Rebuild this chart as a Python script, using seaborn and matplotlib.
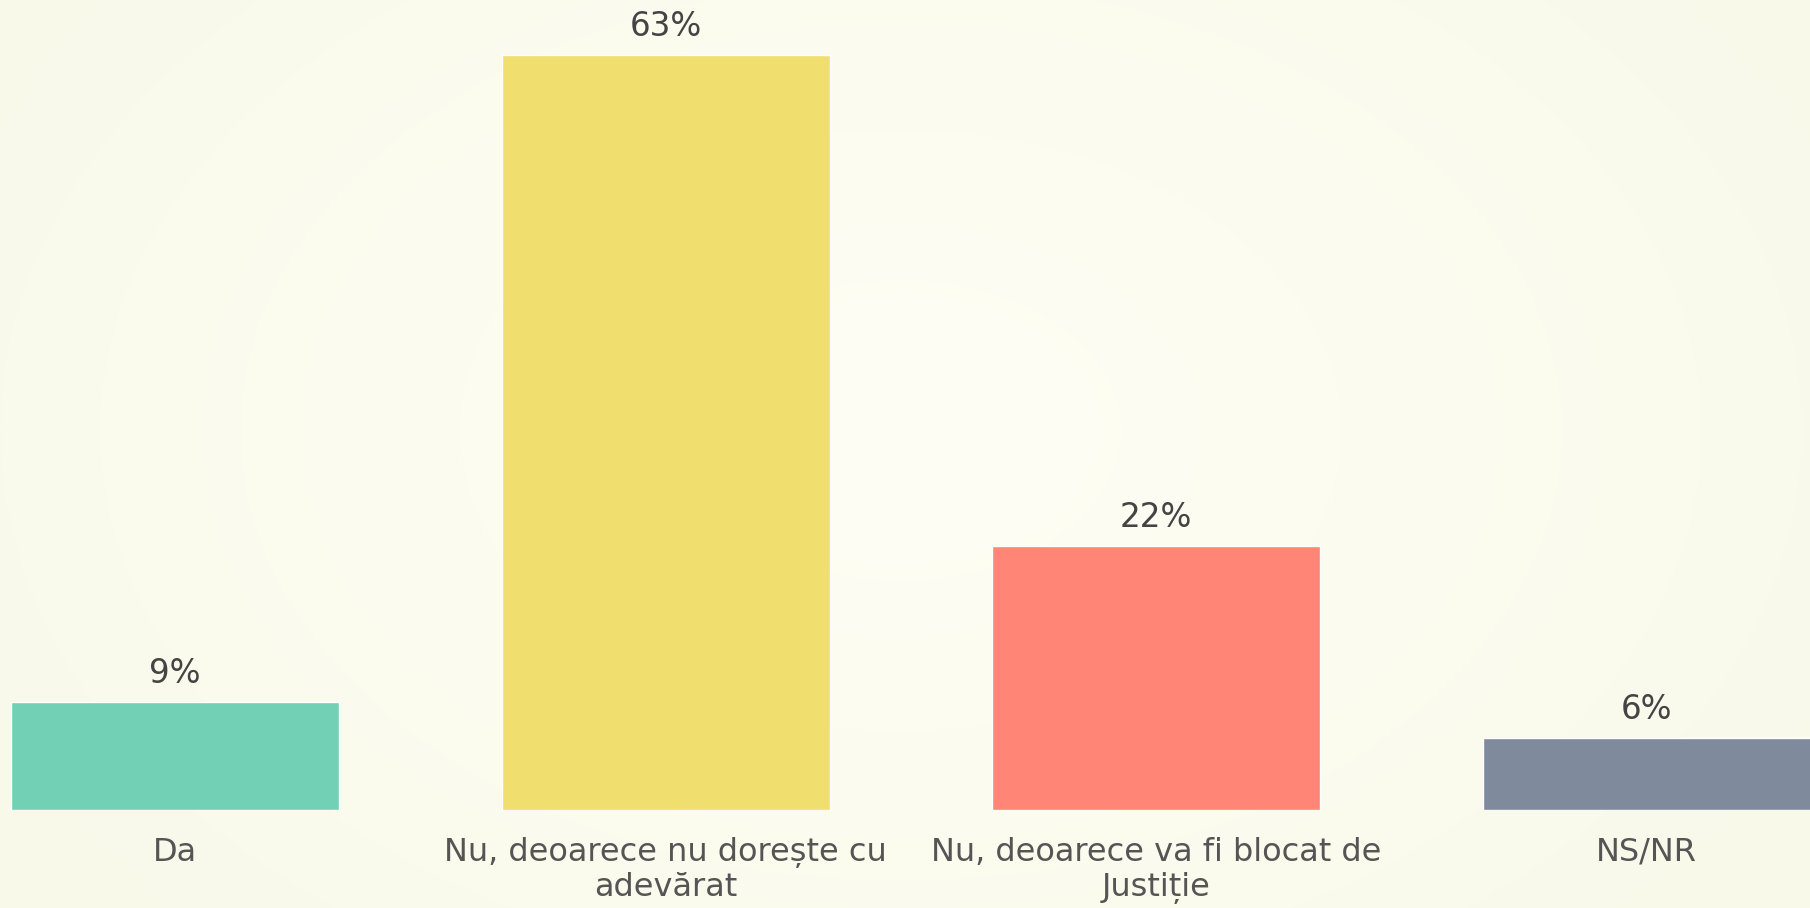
import numpy as np
import pandas as pd
import matplotlib
matplotlib.use("Agg")
import matplotlib.pyplot as plt
import seaborn as sns

categories = ["Da", "Nu, deoarece nu dorește cu\nadevărat", "Nu, deoarece va fi blocat de\nJustiție", "NS/NR"]
values = [9, 63, 22, 6]
value_labels = ["9%", "63%", "22%", "6%"]
colors = ["#72D0B4", "#F0DE6E", "#FF8576", "#7F8A9C"]

sns.set_theme(style="white")
plt.rcParams['font.family'] = ['DejaVu Sans']

W, H, DPI = 18.1, 9.08, 100
fig = plt.figure(figsize=(W, H), dpi=DPI)

# radial background
bg = fig.add_axes([0, 0, 1, 1])
yy, xx = np.mgrid[0:908, 0:1810]
r = np.sqrt(((xx - 900) / 1100) ** 2 + ((yy - 430) / 750) ** 2)
r = np.clip(r, 0, 1)
c_in = np.array([254, 254, 245]) / 255
c_out = np.array([249, 249, 234]) / 255
img = c_in[None, None, :] * (1 - r[..., None]) + c_out[None, None, :] * r[..., None]
bg.imshow(img, aspect='auto', extent=[0, 1, 0, 1], origin='upper')
bg.set_axis_off()

step = 490.6
ax = fig.add_axes([0, 98.5 / 908, 1, 809.5 / 908])
ax.set_facecolor((0, 0, 0, 0))
df = pd.DataFrame({"cat": categories, "val": values})
sns.barplot(data=df, x="cat", y="val", hue="cat", palette=colors, legend=False,
            width=328 / step, saturation=1, ax=ax)
ax.set_xlim(-175 / step, (1810 - 175) / step)
ax.set_ylim(0, 809.5 / 11.976)

for i, (v, lab) in enumerate(zip(values, value_labels)):
    ax.annotate(lab, (i, v), xytext=(0, 13.5), textcoords="offset points",
                ha="center", va="baseline", fontsize=23.5, color="#444444")

ax.set_xlabel("")
ax.set_ylabel("")
ax.set_yticks([])
ax.tick_params(axis="x", length=0, pad=19.5, labelsize=23, labelcolor="#555555")
for t in ax.get_xticklabels():
    t.set_linespacing(1.2)
for s in ax.spines.values():
    s.set_visible(False)

fig.savefig("out.png", dpi=DPI)
